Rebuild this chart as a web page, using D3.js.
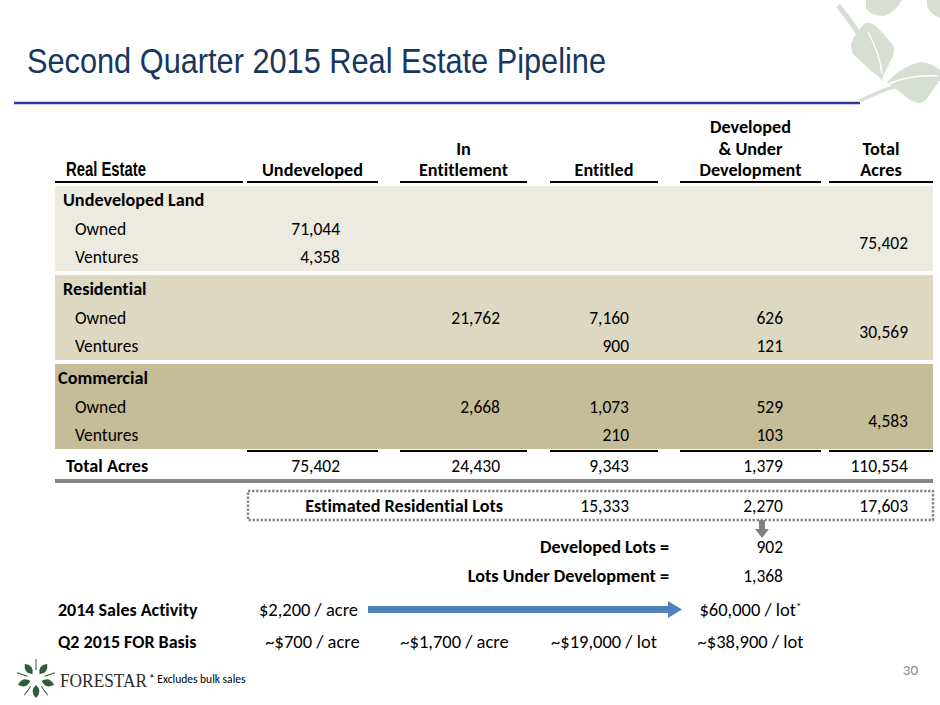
<!DOCTYPE html>
<html>
<head>
<meta charset="utf-8">
<script src="https://cdn.jsdelivr.net/npm/d3@7/dist/d3.min.js"></script>
<style>
  html, body { margin: 0; padding: 0; background: #fff; }
  svg { display: block; }
  text { font-variant-ligatures: none; }
</style>
</head>
<body>
<svg id="slide" width="940" height="705"></svg>
<script>
// ── data ────────────────────────────────────────────────
const colKeys = ['undeveloped', 'inEntitlement', 'entitled', 'developed', 'total'];
const colHeaders = [['Undeveloped'], ['In', 'Entitlement'], ['Entitled'], ['Developed', '& Under', 'Development'], ['Total', 'Acres']];

const groups = ['Undeveloped Land', 'Residential', 'Commercial'];
const subRows = ['Owned', 'Ventures'];

// values per sub-row, in column order undeveloped / inEntitlement / entitled / developed
const undevLandOwned = [71044, null, null, null];
const undevLandVentures = [4358, null, null, null];
const residentialOwned = [null, 21762, 7160, 626];
const residentialVentures = [null, null, 900, 121];
const commercialOwned = [null, 2668, 1073, 529];
const commercialVentures = [null, null, 210, 103];
const groupTotals = [75402, 30569, 4583];

const totalAcres = [75402, 24430, 9343, 1379, 110554];

const lotCols = ['entitled', 'developed', 'total'];
const estimatedLots = [15333, 2270, 17603];

const lotBreakdownLabels = ['Developed Lots =', 'Lots Under Development ='];
const lotBreakdownValues = [902, 1368];

const priceRowLabels = ['2014 Sales Activity', 'Q2 2015 FOR Basis'];
const salesCols = ['undeveloped', 'developed'];
const salesActivity = ['$2,200 / acre', '$60,000 / lot'];
const basisCols = ['undeveloped', 'inEntitlement', 'entitled', 'developed'];
const forBasis = ['~$700 / acre', '~$1,700 / acre', '~$19,000 / lot', '~$38,900 / lot'];

const groupValues = [
  [undevLandOwned, undevLandVentures],
  [residentialOwned, residentialVentures],
  [commercialOwned, commercialVentures],
];

// ── look ────────────────────────────────────────────────
const BODY_FONT = 'Carlito, Lato, sans-serif';
const NARROW_FONT = '"Liberation Sans Narrow", "Arial Narrow", "Liberation Sans", sans-serif';
const BAND_COLORS = ['#edebe0', '#ddd8c2', '#c5bd98'];
const TABLE_LEFT = 55;
const TABLE_RIGHT = 933;
const FS = 17.5;      // regular cell text
const FS_BOLD = 18.2; // bold labels
const fmt = d3.format(',');

// ── scales ──────────────────────────────────────────────
const colLeft = d3.scaleOrdinal().domain(colKeys).range([247, 400, 550, 680, 829]);
const colRight = d3.scaleOrdinal().domain(colKeys).range([378, 527, 658, 821, 933]);
const colValue = d3.scaleOrdinal().domain(colKeys).range([340, 500, 629, 783, 908]);
const colCenter = (k) => (colLeft(k) + colRight(k)) / 2;

const groupY = d3.scaleLinear().domain([0, 1]).range([200, 289]);
const ROW_STEP = 28.5;
const rowY = (g, r) => groupY(g) + ROW_STEP * r; // r = 0 header, 1 owned, 2 ventures

const svg = d3.select('#slide');

// ── background leaves (top right) ───────────────────────
const leafG = svg.append('g').attr('fill', '#d7dfd4');
leafG.append('path').attr('d', 'M866,0 L902,0 Q896,12 884,16 Q870,16 866,8 Z');
leafG.append('path').attr('d', 'M927,0 L940,0 L940,18 Q930,14 927,6 Z');
leafG.append('path').attr('d', 'M864,24 Q870,20 878,28 L893,45 Q896,52 890,62 L882,78 Q876,76 866,66 L853,54 Q848,45 856,34 Z');
leafG.append('path').attr('d', 'M887,82 Q902,66 920,62 Q930,62 940,70 L940,80 L926,100 Q920,106 910,100 Z');
leafG.append('path').attr('d', 'M840,4 Q866,34 883,78 L881,80 Q862,38 836,7 Z');
leafG.append('path').attr('d', 'M858,100 Q900,78 940,78 L940,81 Q900,82 862,102 Z');
svg.append('path').attr('d', 'M868,32 Q880,54 882,74').attr('fill', 'none').attr('stroke', '#fff').attr('stroke-width', 1.5);
svg.append('path').attr('d', 'M888,84 Q912,74 938,76').attr('fill', 'none').attr('stroke', '#fff').attr('stroke-width', 1.5);

// ── title ───────────────────────────────────────────────
svg.append('text')
  .attr('x', 27).attr('y', 73)
  .attr('font-family', NARROW_FONT).attr('font-size', 35)
  .attr('textLength', 579).attr('lengthAdjust', 'spacingAndGlyphs')
  .attr('fill', '#17375e')
  .text('Second Quarter 2015 Real Estate Pipeline');

svg.append('line')
  .attr('x1', 14).attr('x2', 860).attr('y1', 103).attr('y2', 103)
  .attr('stroke', '#333399').attr('stroke-width', 2.5);

// ── column headers ──────────────────────────────────────
const HEADER_BASE = 176;
const HEADER_LINE = 21.5;
const UNDERLINE_Y = 182;

svg.append('text')
  .attr('x', 66).attr('y', HEADER_BASE)
  .attr('font-family', '"Liberation Sans", Arial, sans-serif').attr('font-size', 20).attr('font-weight', 700)
  .attr('textLength', 80).attr('lengthAdjust', 'spacingAndGlyphs')
  .text('Real Estate');
svg.append('line')
  .attr('x1', TABLE_LEFT).attr('x2', 243).attr('y1', UNDERLINE_Y).attr('y2', UNDERLINE_Y)
  .attr('stroke', '#000').attr('stroke-width', 2);

const headG = svg.append('g')
  .attr('font-family', BODY_FONT).attr('font-size', FS_BOLD).attr('font-weight', 700)
  .attr('text-anchor', 'middle');

colKeys.forEach((k, i) => {
  const lines = colHeaders[i];
  lines.forEach((ln, j) => {
    headG.append('text')
      .attr('x', colCenter(k))
      .attr('y', HEADER_BASE - (lines.length - 1 - j) * HEADER_LINE)
      .text(ln);
  });
  svg.append('line')
    .attr('x1', colLeft(k)).attr('x2', colRight(k))
    .attr('y1', UNDERLINE_Y).attr('y2', UNDERLINE_Y)
    .attr('stroke', '#000').attr('stroke-width', 2);
});

// ── group bands and rows ────────────────────────────────
const bodyG = svg.append('g').attr('font-family', BODY_FONT).attr('font-size', FS).attr('fill', '#000');

groups.forEach((name, g) => {
  bodyG.append('rect')
    .attr('x', TABLE_LEFT).attr('width', TABLE_RIGHT - TABLE_LEFT)
    .attr('y', rowY(g, 0) - 14).attr('height', rowY(g, 2) - rowY(g, 0) + 28)
    .attr('fill', BAND_COLORS[g]);

  bodyG.append('text')
    .attr('x', g === 2 ? 58 : 63).attr('y', rowY(g, 0)).attr('dy', '0.35em')
    .attr('font-weight', 700).attr('font-size', FS_BOLD)
    .text(name);

  subRows.forEach((sub, r) => {
    const y = rowY(g, r + 1);
    bodyG.append('text').attr('x', 75).attr('y', y).attr('dy', '0.35em').text(sub);

    bodyG.selectAll(null)
      .data(groupValues[g][r].map((v, c) => ({ v, k: colKeys[c] })).filter((d) => d.v != null))
      .join('text')
      .attr('x', (d) => colValue(d.k)).attr('y', y).attr('dy', '0.35em')
      .attr('text-anchor', 'end')
      .text((d) => fmt(d.v));
  });

  bodyG.append('text')
    .attr('x', colValue('total')).attr('y', (rowY(g, 1) + rowY(g, 2)) / 2).attr('dy', '0.35em')
    .attr('text-anchor', 'end')
    .text(fmt(groupTotals[g]));
});

// ── totals ──────────────────────────────────────────────
const TOTAL_Y = 466;
colKeys.forEach((k) => {
  svg.append('line')
    .attr('x1', colLeft(k)).attr('x2', colRight(k)).attr('y1', 451).attr('y2', 451)
    .attr('stroke', '#000').attr('stroke-width', 2);
});
bodyG.append('text')
  .attr('x', 66).attr('y', TOTAL_Y).attr('dy', '0.35em')
  .attr('font-weight', 700).attr('font-size', FS_BOLD)
  .text('Total Acres');
bodyG.selectAll(null)
  .data(totalAcres.map((v, i) => ({ v, k: colKeys[i] })))
  .join('text')
  .attr('x', (d) => colValue(d.k)).attr('y', TOTAL_Y).attr('dy', '0.35em')
  .attr('text-anchor', 'end')
  .text((d) => fmt(d.v));

svg.append('line')
  .attr('x1', TABLE_LEFT).attr('x2', TABLE_RIGHT).attr('y1', 481).attr('y2', 481)
  .attr('stroke', '#858585').attr('stroke-width', 4);

// ── estimated residential lots ──────────────────────────
const LOTS_Y = 506;
svg.append('rect')
  .attr('x', 248).attr('y', 491).attr('width', TABLE_RIGHT - 248).attr('height', 29)
  .attr('fill', 'none').attr('stroke', '#8a8a8a').attr('stroke-width', 2.5)
  .attr('stroke-dasharray', '2.5,1.5');
bodyG.append('text')
  .attr('x', 503).attr('y', LOTS_Y).attr('dy', '0.35em')
  .attr('text-anchor', 'end').attr('font-weight', 700).attr('font-size', FS_BOLD)
  .text('Estimated Residential Lots');
bodyG.selectAll(null)
  .data(estimatedLots.map((v, i) => ({ v, k: lotCols[i] })))
  .join('text')
  .attr('x', (d) => colValue(d.k)).attr('y', LOTS_Y).attr('dy', '0.35em')
  .attr('text-anchor', 'end')
  .text((d) => fmt(d.v));

// gray down arrow under the developed lots
const ax = colValue('developed') - 21;
svg.append('path')
  .attr('d', `M${ax - 3},520 L${ax + 3},520 L${ax + 3},529 L${ax + 7},529 L${ax},538 L${ax - 7},529 L${ax - 3},529 Z`)
  .attr('fill', '#808080');

lotBreakdownLabels.forEach((lbl, i) => {
  const y = 547 + i * 28.5;
  bodyG.append('text')
    .attr('x', 669).attr('y', y).attr('dy', '0.35em')
    .attr('text-anchor', 'end').attr('font-weight', 700).attr('font-size', FS_BOLD)
    .text(lbl);
  bodyG.append('text')
    .attr('x', colValue('developed')).attr('y', y).attr('dy', '0.35em')
    .attr('text-anchor', 'end')
    .text(fmt(lotBreakdownValues[i]));
});

// ── price rows ──────────────────────────────────────────
const PRICE_Y = [610, 642];
const priceG = svg.append('g').attr('font-family', BODY_FONT).attr('fill', '#000');
priceRowLabels.forEach((lbl, i) => {
  priceG.append('text')
    .attr('x', 58).attr('y', PRICE_Y[i]).attr('dy', '0.35em')
    .attr('font-weight', 700).attr('font-size', 18)
    .text(lbl);
});

salesActivity.forEach((s, i) => {
  const t = priceG.append('text')
    .attr('x', colCenter(salesCols[i]) - (i === 0 ? 4 : 0)).attr('y', PRICE_Y[0]).attr('dy', '0.35em')
    .attr('text-anchor', 'middle').attr('font-size', 18.5)
    .text(s);
  if (i === 1) t.append('tspan').attr('dy', '-0.55em').attr('font-size', 11).text('*');
});

// blue arrow from acre price to lot price
svg.append('path')
  .attr('d', 'M368,606 L668,606 L668,601 L682,609.5 L668,618 L668,613 L368,613 Z')
  .attr('fill', '#4f81bd');

forBasis.forEach((s, i) => {
  priceG.append('text')
    .attr('x', colCenter(basisCols[i]) - (i === 1 ? 9 : 0)).attr('y', PRICE_Y[1]).attr('dy', '0.35em')
    .attr('text-anchor', 'middle').attr('font-size', 18.5)
    .text(s);
});

// ── footer ──────────────────────────────────────────────
svg.append('text')
  .attr('x', 918).attr('y', 675).attr('text-anchor', 'end')
  .attr('font-family', BODY_FONT).attr('font-size', 15).attr('fill', '#8c8c8c')
  .text('30');

// Forestar mark: five leaves around a center
const logo = svg.append('g').attr('transform', 'translate(36,679)').attr('fill', '#2f5d3a');
d3.range(5).forEach((i) => {
  logo.append('path')
    .attr('d', 'M0,-6 Q7,-12 0,-19 Q-7,-12 0,-6 Z')
    .attr('transform', `rotate(${i * 72 + 36})`);
  logo.append('path')
    .attr('d', 'M0,-9 L0,-20')
    .attr('stroke', '#2f5d3a').attr('stroke-width', 1)
    .attr('transform', `rotate(${i * 72})`);
});
svg.append('text')
  .attr('x', 60).attr('y', 687)
  .attr('font-family', '"Liberation Serif", "DejaVu Serif", serif').attr('font-size', 19)
  .attr('fill', '#2b2b2b')
  .attr('textLength', 87).attr('lengthAdjust', 'spacingAndGlyphs')
  .text('FORESTAR');
svg.append('text')
  .attr('x', 149).attr('y', 683)
  .attr('font-family', BODY_FONT).attr('font-size', 11.5).attr('fill', '#000')
  .text('* Excludes bulk sales');
</script>
</body>
</html>
